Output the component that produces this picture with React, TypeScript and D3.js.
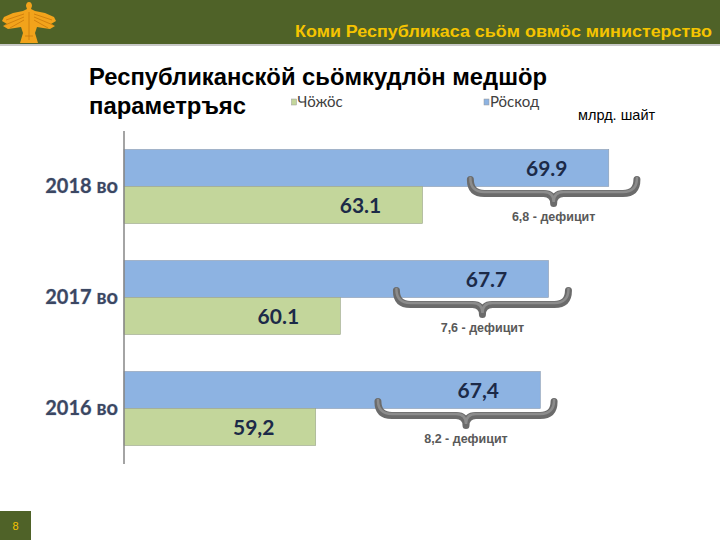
import * as d3 from "d3";

const years = ["2018 во", "2017 во", "2016 во"];
const revenue = [63.1, 60.1, 59.2];
const revenueLabels = ["63.1", "60.1", "59,2"];
const expense = [69.9, 67.7, 67.4];
const expenseLabels = ["69.9", "67.7", "67,4"];
const deficitLabels = ["6,8 - дефицит", "7,6 - дефицит", "8,2 - дефицит"];
const seriesNames = ["Чӧжӧс", "Рӧскод"];

const GREEN = "#c3d69b";
const BLUE = "#8db3e2";
const HEADER = "#4f6228";
const GOLD = "#f5c400";

// curly brace opening upwards, tip pointing down
const bracePath = (x1: number, x2: number, y0: number, h: number, tip: number) => {
  const mid = (x1 + x2) / 2;
  const p = d3.path();
  p.moveTo(x1, y0);
  p.quadraticCurveTo(x1, y0 + h, x1 + h, y0 + h);
  p.lineTo(mid - tip, y0 + h);
  p.quadraticCurveTo(mid, y0 + h, mid, y0 + h + tip);
  p.quadraticCurveTo(mid, y0 + h, mid + tip, y0 + h);
  p.lineTo(x2 - h, y0 + h);
  p.quadraticCurveTo(x2, y0 + h, x2, y0);
  return p.toString();
};

const App = () => {
  const x = d3.scaleLinear().domain([52.2, 70]).range([124, 611.5]);
  const y = d3
    .scaleBand()
    .domain(years)
    .range([131, 464])
    .paddingInner(1 / 3)
    .paddingOuter(1 / 6);
  const inner = d3
    .scaleBand()
    .domain(["exp", "rev"])
    .range([0, y.bandwidth()]);

  return (
    <div style={{ position: "absolute", left: 0, top: 0 }}>
      <svg width={720} height={540} viewBox="0 0 720 540" style={{ display: "block", background: "#fff" }}>
        {/* header */}
        <rect x={0} y={0} width={720} height={44} fill={HEADER} />
        <rect x={0} y={44} width={720} height={2} fill="#c8c8c8" />
        <g>
          <path
            d="M29,2 C31,2 32,4 32,6 L31,9 L35,11 L45,13 L54,17 L56,21 L51,24 L55,26 L50,29 L43,28 L37,27 L35,33 L38,43 L20,43 L23,33 L21,27 L15,28 L8,29 L3,26 L7,24 L2,21 L4,17 L13,13 L23,11 L27,9 L26,6 C26,4 27,2 29,2 Z"
            fill="#f2a31b"
          />
          <path
            d="M24,14 L6,20 M24,17 L5,25 M24,20 L10,28 M34,14 L52,20 M34,17 L53,25 M34,20 L48,28 M29,12 L29,40 M25,36 L33,36"
            fill="none"
            stroke="#c9780a"
            strokeWidth={0.8}
          />
        </g>
        <text
          x={712}
          y={37}
          textAnchor="end"
          fontFamily="'Liberation Sans Narrow', 'Liberation Sans', Arial, sans-serif"
          fontWeight="bold"
          fontSize={16}
          fill={GOLD}
          textLength={417}
          lengthAdjust="spacingAndGlyphs"
        >
          Коми Республикаса сьӧм овмӧс министерство
        </text>

        {/* title */}
        <g fontFamily="'Liberation Sans', Arial, sans-serif" fontWeight="bold" fontSize={23} fill="#000">
          <text x={89} y={85} textLength={458} lengthAdjust="spacingAndGlyphs">
            Республиканскӧй сьӧмкудлӧн медшӧр
          </text>
          <text x={89} y={114} textLength={157} lengthAdjust="spacingAndGlyphs">
            параметръяс
          </text>
        </g>

        {/* legend */}
        <g fontFamily="Lato, 'Open Sans', sans-serif" fontSize={15} fill="#404040">
          <rect x={291.5} y={99} width={5} height={6} fill={GREEN} stroke="#999" strokeWidth={0.5} />
          <text x={297.5} y={107}>{seriesNames[0]}</text>
          <rect x={484} y={99} width={5} height={6} fill={BLUE} stroke="#999" strokeWidth={0.5} />
          <text x={490} y={107}>{seriesNames[1]}</text>
        </g>
        <text x={578} y={120} fontFamily="'Liberation Sans', Arial, sans-serif" fontSize={14.5} fill="#000">
          млрд. шайт
        </text>

        {/* bars */}
        {years.map((yr, i) => {
          const y0 = y(yr) as number;
          const c = y0 + y.bandwidth() / 2;
          const xr = x(revenue[i]);
          const xe = x(expense[i]);
          const bc = (xr + xe) / 2 + 38;
          const half = 60 + (xe - xr) / 8;
          const bp = bracePath(bc - half, bc + half, c - 7, 14, 10);
          return (
            <g key={yr}>
              <rect
                x={x(52.2)}
                y={y0 + (inner("exp") as number)}
                width={xe - x(52.2)}
                height={inner.bandwidth()}
                fill={BLUE}
                stroke="#8a9ab0"
                strokeWidth={0.6}
              />
              <rect
                x={x(52.2)}
                y={y0 + (inner("rev") as number)}
                width={xr - x(52.2)}
                height={inner.bandwidth()}
                fill={GREEN}
                stroke="#9aa48a"
                strokeWidth={0.6}
              />
              <g fontFamily="Lato, 'Open Sans', sans-serif" fontWeight="bold" fontSize={21} fill="#1c2a48" textAnchor="middle">
                <text x={xe - 62} y={y0 + (inner("exp") as number) + inner.bandwidth() / 2 + 7.5}>
                  {expenseLabels[i]}
                </text>
                <text x={xr - 62} y={y0 + (inner("rev") as number) + inner.bandwidth() / 2 + 7.5}>
                  {revenueLabels[i]}
                </text>
              </g>
              <text
                x={118}
                y={c + 6}
                textAnchor="end"
                fontFamily="Lato, 'Open Sans', sans-serif"
                fontWeight="bold"
                fontSize={20}
                fill="#3b4762"
                stroke="#b8c0d0"
                strokeWidth={0.6}
                paintOrder="stroke"
              >
                {yr}
              </text>
              <path d={bp} fill="none" stroke="#6b6b6b" strokeWidth={7} strokeLinecap="round" strokeLinejoin="round" />
              <path d={bp} fill="none" stroke="#8c8c8c" strokeWidth={2.5} strokeLinecap="round" transform="translate(0,-1.5)" />
              <text
                x={bc}
                y={c + 34}
                textAnchor="middle"
                fontFamily="'Liberation Sans', Arial, sans-serif"
                fontWeight="bold"
                fontSize={12.5}
                fill="#595959"
              >
                {deficitLabels[i]}
              </text>
            </g>
          );
        })}

        {/* axis */}
        <line x1={124} x2={124} y1={131} y2={464} stroke="#868686" strokeWidth={1.5} />

        {/* page number */}
        <rect x={0} y={511} width={31} height={29} fill={HEADER} />
        <text x={15.5} y={530} textAnchor="middle" fontFamily="'Liberation Sans', Arial, sans-serif" fontSize={11} fill={GOLD}>
          8
        </text>
      </svg>
    </div>
  );
};

export default App;
